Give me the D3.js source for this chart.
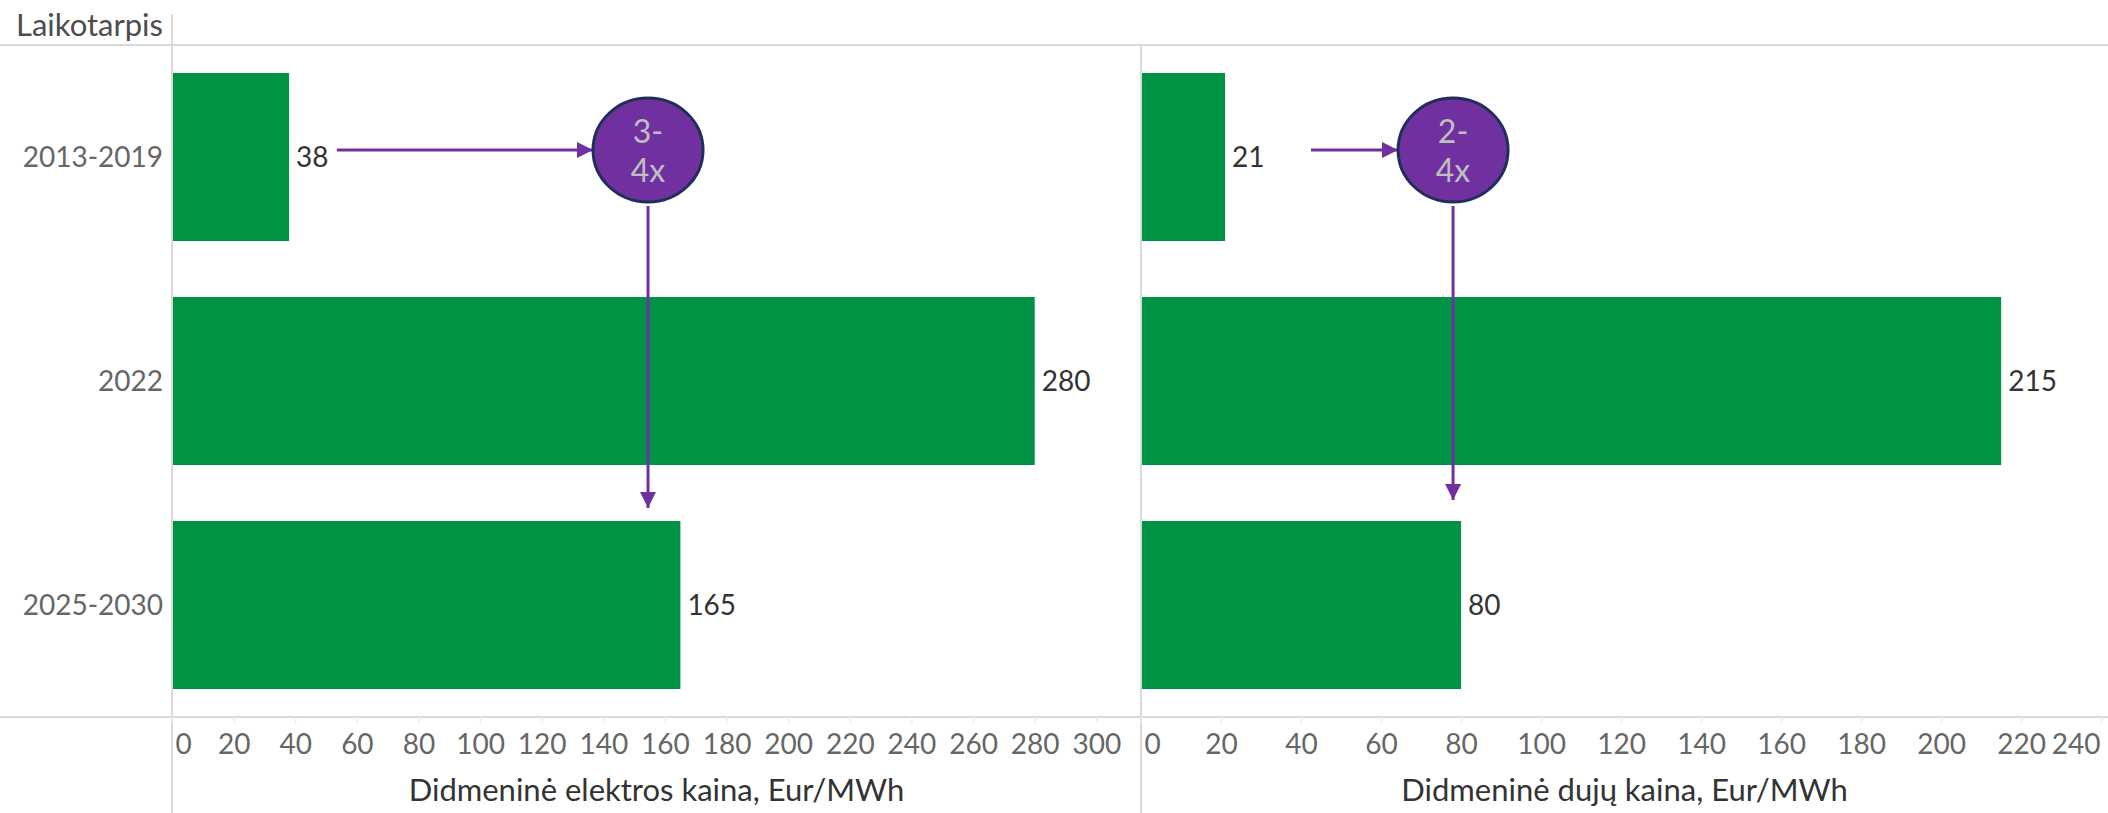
<!DOCTYPE html>
<html>
<head>
<meta charset="utf-8">
<script src="https://cdn.jsdelivr.net/npm/d3@7"></script>
<style>
  body { margin: 0; background: #fff; }
  svg text { font-family: Lato, "Open Sans", sans-serif; }
</style>
</head>
<body>
<div id="chart"></div>
<script>
// data
var periods = ["2013-2019", "2022", "2025-2030"];
var elecPrice = [38, 280, 165];
var gasPrice = [21, 215, 80];
var elecTicks = [0, 20, 40, 60, 80, 100, 120, 140, 160, 180, 200, 220, 240, 260, 280, 300];
var gasTicks = [0, 20, 40, 60, 80, 100, 120, 140, 160, 180, 200, 220, 240];
var elecMax = 314.5, gasMax = 241.7;
var elecTitle = "Didmeninė elektros kaina, Eur/MWh";
var gasTitle = "Didmeninė dujų kaina, Eur/MWh";
var rowHeader = "Laikotarpis";
// annotation: arrow start, bubble centre (value units), bubble text
var elecNote = {from: 53.5, at: 154.5, lines: ["3-", "4x"]};
var gasNote = {from: 42.5, at: 78, lines: ["2-", "4x"]};

var width = 2108, height = 813;
var headerY = 45, axisY = 717, leftX = 172, midX = 1141;
var green = "#009245", purple = "#7030a0", gridCol = "#d9d9d9";

var svg = d3.select("#chart").append("svg")
    .attr("width", width)
    .attr("height", height);

svg.append("defs").append("marker")
    .attr("id", "head")
    .attr("viewBox", "0 0 10 10")
    .attr("refX", 10).attr("refY", 5)
    .attr("markerWidth", 5.4).attr("markerHeight", 5.4)
    .attr("markerUnits", "strokeWidth")
    .attr("orient", "auto")
  .append("path")
    .attr("d", "M0,0L10,5L0,10Z")
    .attr("fill", purple);

var y = d3.scaleBand().domain(periods).range([headerY, axisY])
    .paddingInner(0.25).paddingOuter(0.125);

var xL = d3.scaleLinear().domain([0, elecMax]).range([leftX, midX]);
var xR = d3.scaleLinear().domain([0, gasMax]).range([midX, width]);

// grid frame
svg.append("line").attr("x1", 0).attr("x2", width).attr("y1", headerY).attr("y2", headerY)
    .attr("stroke", gridCol).attr("stroke-width", 2);
svg.append("line").attr("x1", 0).attr("x2", width).attr("y1", axisY).attr("y2", axisY)
    .attr("stroke", gridCol).attr("stroke-width", 2);
svg.append("line").attr("x1", leftX).attr("x2", leftX).attr("y1", 14).attr("y2", height)
    .attr("stroke", gridCol).attr("stroke-width", 2);
svg.append("line").attr("x1", midX).attr("x2", midX).attr("y1", headerY).attr("y2", height)
    .attr("stroke", gridCol).attr("stroke-width", 2);

svg.append("text")
    .attr("x", 16).attr("y", 36)
    .attr("font-size", 31)
    .attr("fill", "#4d4d4d")
    .text(rowHeader);

// row labels
svg.append("g").selectAll("text")
    .data(periods)
    .enter().append("text")
    .attr("x", 163)
    .attr("y", function(d) { return y(d) + y.bandwidth() / 2; })
    .attr("dy", "0.35em")
    .attr("text-anchor", "end")
    .attr("font-size", 28)
    .attr("fill", "#666")
    .text(function(d) { return d; });

function drawPane(x, values, ticks, title, note, tipY) {
    var g = svg.append("g");

    g.selectAll(".bar")
        .data(values)
        .enter().append("rect")
        .attr("class", "bar")
        .attr("x", x(0) + 1)
        .attr("y", function(d, i) { return y(periods[i]); })
        .attr("width", function(d) { return x(d) - x(0) - 1; })
        .attr("height", y.bandwidth())
        .attr("fill", green);

    g.selectAll(".val")
        .data(values)
        .enter().append("text")
        .attr("class", "val")
        .attr("x", function(d) { return x(d) + 7; })
        .attr("y", function(d, i) { return y(periods[i]) + y.bandwidth() / 2; })
        .attr("dy", "0.35em")
        .attr("font-size", 28)
        .attr("fill", "#333")
        .text(function(d) { return d; });

    var axis = g.append("g")
        .attr("transform", "translate(0," + axisY + ")")
        .call(d3.axisBottom(x).tickValues(ticks).tickSize(6).tickFormat(d3.format("d")));
    axis.select(".domain").remove();
    axis.selectAll(".tick line").attr("stroke", "#ebebeb").attr("stroke-width", 1.5);
    axis.selectAll(".tick text")
        .attr("y", 27).attr("dy", "0.35em")
        .attr("font-size", 28)
        .attr("font-family", "Lato, sans-serif")
        .attr("fill", "#666");
    // keep edge labels inside the pane
    axis.selectAll(".tick text").each(function(d) {
        var w = this.getComputedTextLength();
        var px = x(d);
        if (px - w / 2 < x.range()[0]) {
            d3.select(this).attr("text-anchor", "start").attr("x", x.range()[0] - px + 3);
        } else if (px + w / 2 > x.range()[1]) {
            d3.select(this).attr("text-anchor", "end").attr("x", x.range()[1] - px - 8);
        }
    });

    g.append("text")
        .attr("x", (x.range()[0] + x.range()[1]) / 2)
        .attr("y", 790)
        .attr("dy", "0.35em")
        .attr("text-anchor", "middle")
        .attr("font-size", 31)
        .attr("fill", "#333")
        .text(title);

    // annotation bubble and arrows
    var cy = y(periods[0]) + y.bandwidth() / 2 - 7;
    var cx = x(note.at), rx = 55, ry = 52;
    var arrowY = y(periods[0]) + y.bandwidth() / 2 - 7;

    g.append("line")
        .attr("x1", x(note.from)).attr("x2", cx - rx)
        .attr("y1", arrowY).attr("y2", arrowY)
        .attr("stroke", purple).attr("stroke-width", 3)
        .attr("marker-end", "url(#head)");

    g.append("line")
        .attr("x1", cx).attr("x2", cx)
        .attr("y1", cy + ry + 4).attr("y2", tipY)
        .attr("stroke", purple).attr("stroke-width", 3)
        .attr("marker-end", "url(#head)");

    g.append("ellipse")
        .attr("cx", cx).attr("cy", cy)
        .attr("rx", rx).attr("ry", ry)
        .attr("fill", purple)
        .attr("stroke", "#1f2f57").attr("stroke-width", 3);

    g.selectAll(".note")
        .data(note.lines)
        .enter().append("text")
        .attr("class", "note")
        .attr("x", cx)
        .attr("y", function(d, i) { return cy - 18 + i * 39; })
        .attr("dy", "0.35em")
        .attr("text-anchor", "middle")
        .attr("font-size", 32)
        .attr("fill", "#bfbfbf")
        .text(function(d) { return d; });
}

drawPane(xL, elecPrice, elecTicks, elecTitle, elecNote, y(periods[2]) - 13);
drawPane(xR, gasPrice, gasTicks, gasTitle, gasNote, y(periods[2]) - 21);
</script>
</body>
</html>
